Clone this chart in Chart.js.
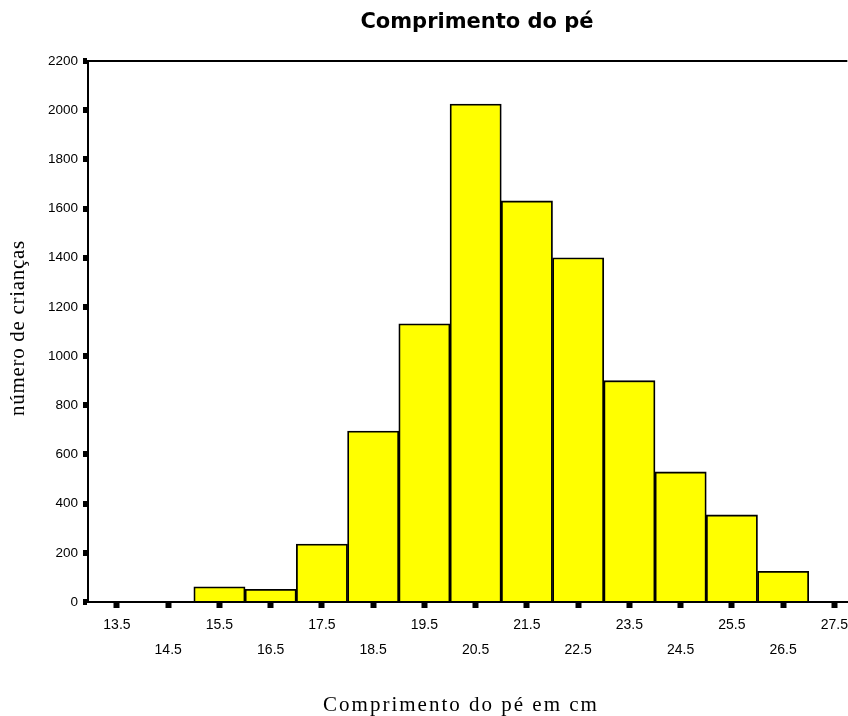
<!DOCTYPE html>
<html>
<head>
<meta charset="utf-8">
<script src="https://cdn.jsdelivr.net/npm/chart.js@4/dist/chart.umd.min.js"></script>
<style>
html, body { margin: 0; padding: 0; background: #fff; overflow: hidden; }
#wrap { width: 853px; height: 716px; }
</style>
</head>
<body>
<div id="wrap"><canvas id="c"></canvas></div>
<script>
const chartTitle = 'Comprimento do pé';
const xTitle = 'Comprimento do pé em cm';
const yTitle = 'número de crianças';

const footSizes = [13.5, 14.5, 15.5, 16.5, 17.5, 18.5, 19.5, 20.5, 21.5, 22.5, 23.5, 24.5, 25.5, 26.5, 27.5];
const counts = [0, 0, 62, 52, 236, 695, 1131, 2025, 1631, 1400, 900, 529, 354, 125, 0];
const yTicks = [0, 200, 400, 600, 800, 1000, 1200, 1400, 1600, 1800, 2000, 2200];

// titles drawn by hand: the original has spaced-out serif axis titles
const titles = {
  id: 'titles',
  afterDraw(chart) {
    const { ctx, chartArea } = chart;
    ctx.save();
    ctx.fillStyle = '#000';
    ctx.textAlign = 'center';
    ctx.textBaseline = 'middle';

    ctx.font = 'bold 21px "DejaVu Sans"';
    ctx.fillText(chartTitle, 477, 23);

    ctx.font = '21px "Liberation Serif"';
    ctx.letterSpacing = '2px';
    ctx.fillText(xTitle, 461, 705);

    ctx.letterSpacing = '0.7px';
    ctx.translate(18, 328);
    ctx.rotate(-Math.PI / 2);
    ctx.fillText(yTitle, 0, 0);
    ctx.restore();
  }
};

new Chart(document.getElementById('c'), {
  type: 'bar',
  data: {
    datasets: [{
      data: footSizes.map((x, i) => ({ x: x, y: counts[i] })),
      backgroundColor: '#ffff00',
      borderColor: '#000',
      borderWidth: 1.8,
      barPercentage: 1,
      categoryPercentage: 1
    }]
  },
  options: {
    responsive: true,
    maintainAspectRatio: false,
    animation: false,
    layout: { padding: { top: 61, right: 0, left: 0, bottom: 0 } },
    plugins: {
      legend: { display: false },
      tooltip: { enabled: false }
    },
    scales: {
      x: {
        type: 'linear',
        min: 12.935,
        max: 27.753,
        offset: false,
        afterBuildTicks: s => { s.ticks = footSizes.map(v => ({ value: v })); },
        afterFit: s => { s.height = 114; },
        ticks: {
          autoSkip: false,
          maxRotation: 0,
          minRotation: 0,
          color: '#000',
          padding: 5,
          font: { family: '"Liberation Sans"', size: 14, lineHeight: 1.75 },
          callback: (v, i) => i % 2 ? ['', footSizes[i].toFixed(1)] : footSizes[i].toFixed(1)
        },
        grid: {
          offset: false,
          drawOnChartArea: false,
          tickLength: 6,
          tickWidth: 6,
          tickColor: '#000'
        },
        border: { display: true, color: '#000', width: 2 }
      },
      y: {
        min: 0,
        max: 2200,
        afterBuildTicks: s => { s.ticks = yTicks.map(v => ({ value: v })); },
        afterFit: s => { s.width = 88; },
        ticks: {
          color: '#000',
          padding: 5,
          font: { family: '"Liberation Sans"', size: 13.5 },
          callback: v => String(v)
        },
        grid: {
          color: c => (c.tick && c.tick.value === 2200) ? '#000' : 'rgba(0,0,0,0)',
          lineWidth: 2,
          tickLength: 5,
          tickWidth: 6,
          tickColor: '#000'
        },
        border: { display: true, color: '#000', width: 2 }
      }
    }
  },
  plugins: [titles]
});
</script>
</body>
</html>
